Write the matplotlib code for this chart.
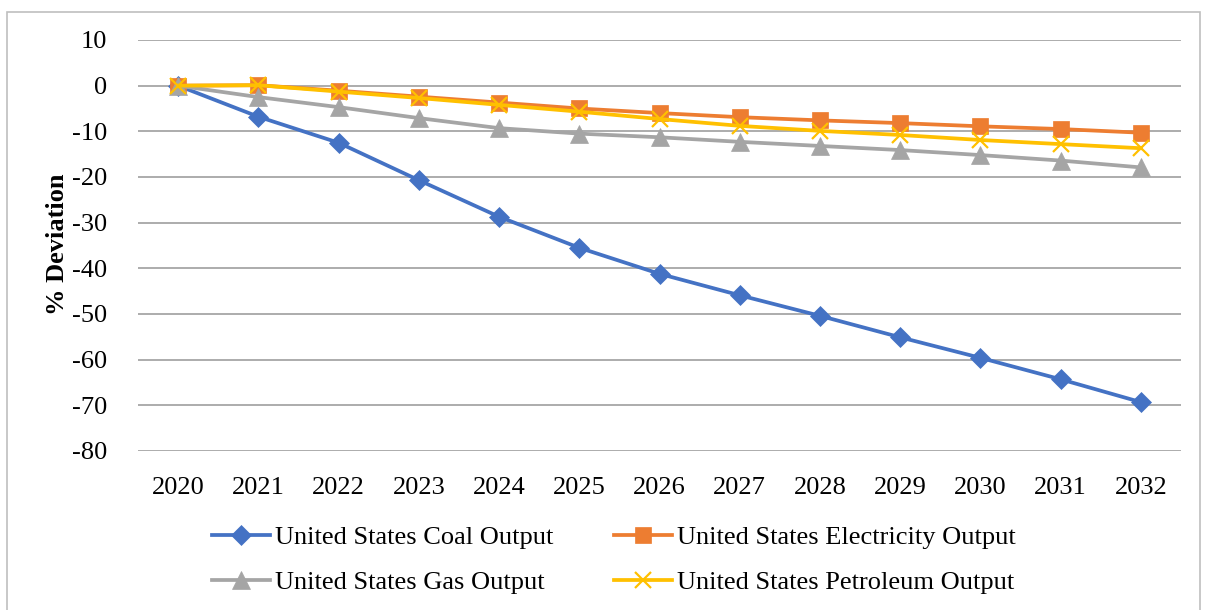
import matplotlib
matplotlib.use("Agg")
import matplotlib.pyplot as plt
from matplotlib.patches import Rectangle

years = ["2020", "2021", "2022", "2023", "2024", "2025", "2026",
         "2027", "2028", "2029", "2030", "2031", "2032"]
coal = [0, -6.8, -12.5, -20.7, -28.7, -35.5, -41.2, -45.9, -50.4, -55.1, -59.6, -64.3, -69.3]
electricity = [0, 0.1, -1.1, -2.4, -3.7, -5.0, -6.0, -6.9, -7.6, -8.2, -8.9, -9.5, -10.3]
gas = [0, -2.5, -4.7, -7.1, -9.3, -10.5, -11.3, -12.3, -13.2, -14.1, -15.2, -16.4, -17.9]
petroleum = [0, 0.1, -1.3, -2.7, -4.2, -5.7, -7.3, -8.8, -9.9, -10.8, -11.9, -12.8, -13.7]
y_ticks = [10, 0, -10, -20, -30, -40, -50, -60, -70, -80]

plt.rcParams["font.family"] = ["Liberation Serif", "DejaVu Serif"]
plt.rcParams["axes.unicode_minus"] = False

W, H = 1207, 610
fig = plt.figure(figsize=(W / 100, H / 100), dpi=100)
ax = fig.add_axes([138 / W, 1 - 451 / H, (1181 - 138) / W, (451 - 40) / H])

# outer chart frame
fig.patches.append(Rectangle((7 / W, -0.05), (1200 - 7) / W, 1.05 - 12 / H,
                             transform=fig.transFigure, fill=False,
                             edgecolor="#BFBFBF", linewidth=1.2, zorder=0))

x = list(range(len(years)))
series = [
    ("United States Coal Output", coal, "#4472C4", "D", 10),
    ("United States Electricity Output", electricity, "#ED7D31", "s", 12),
    ("United States Gas Output", gas, "#A5A5A5", "^", 13),
    ("United States Petroleum Output", petroleum, "#FFC000", "x", 12),
]
handles = {}
for z, (name, vals, color, mk, ms) in enumerate(series):
    kw = dict(markeredgewidth=1.6) if mk == "x" else dict(markeredgewidth=0.5)
    h, = ax.plot(x, vals, color=color, linewidth=2.7, marker=mk, markersize=ms,
                 markerfacecolor=color, markeredgecolor=color, label=name,
                 zorder=3 + z, clip_on=False, **kw)
    handles[name] = h

ax.set_xlim(-0.5, len(years) - 0.5)
ax.set_ylim(-80, 10)
ax.set_xticks(x)
ax.set_xticklabels(years)
ax.set_yticks(y_ticks)
ax.tick_params(axis="both", length=0, labelsize=19, colors="black")
ax.tick_params(axis="y", pad=22)
ax.tick_params(axis="x", pad=19)
ax.grid(axis="y", color="#A6A6A6", linewidth=1.3)
ax.set_axisbelow(True)
for s in ax.spines.values():
    s.set_visible(False)

fig.text(57 / W, 1 - 244 / H, "% Deviation", rotation=90, ha="center", va="center",
         fontsize=19, fontweight="bold")

# legend filled column-wise, so order entries to read row by row
order = ["United States Coal Output", "United States Gas Output",
         "United States Electricity Output", "United States Petroleum Output"]
fig.legend(handles=[handles[n] for n in order], ncol=2, loc="center",
           bbox_to_anchor=(614 / W, 1 - 560 / H), frameon=False,
           fontsize=19, handlelength=2.2, handletextpad=0.2,
           columnspacing=2.3, labelspacing=0.8)

fig.savefig("out.png", dpi=100)
